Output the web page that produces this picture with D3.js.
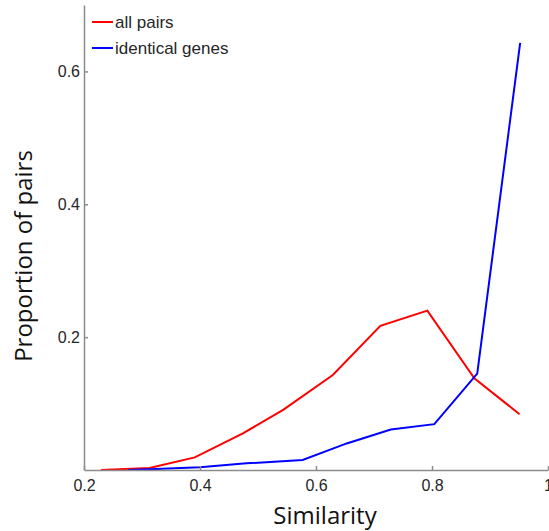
<!DOCTYPE html>
<html>
<head>
<meta charset="utf-8">
<script src="https://cdn.jsdelivr.net/npm/d3@7"></script>
<style>
  body { margin: 0; background: #fff; }
  .tick text { font-family: "Liberation Sans", Arial, sans-serif; font-size: 16px; fill: #262626; }
</style>
</head>
<body>
<div id="chart"></div>
<script>
// data
var allPairsX = [0.229, 0.313, 0.391, 0.474, 0.544, 0.629, 0.711, 0.792, 0.873, 0.951];
var allPairsY = [0.000, 0.003, 0.019, 0.055, 0.091, 0.143, 0.217, 0.240, 0.138, 0.084];
var identicalX = [0.276, 0.313, 0.400, 0.480, 0.577, 0.653, 0.729, 0.804, 0.878, 0.952];
var identicalY = [0.000, 0.001, 0.004, 0.010, 0.015, 0.040, 0.061, 0.069, 0.145, 0.643];
var xTicks = [0.2, 0.4, 0.6, 0.8, 1];
var yTicks = [0.2, 0.4, 0.6];
var seriesNames = ["all pairs", "identical genes"];
var seriesColors = ["#ff0000", "#0000ff"];

function createLineChart(){

  var margin = {top: 5, right: 1, bottom: 61, left: 84},
      width = 549 - margin.left - margin.right,
      height = 531 - margin.top - margin.bottom;

  var x = d3.scaleLinear().domain([0.2, 1]).range([0, width]);
  var y = d3.scaleLinear().domain([0, 0.7]).range([height, 0]);

  var valueline = d3.line()
      .x(function(d) { return x(d[0]); })
      .y(function(d) { return y(d[1]); });

  var svg = d3.select("#chart").append("svg")
      .attr("width", 549)
      .attr("height", 531)
    .append("g")
      .attr("transform", "translate(" + margin.left + "," + margin.top + ")");

  var series = [
    d3.zip(allPairsX, allPairsY),
    d3.zip(identicalX, identicalY)
  ];

  // lines
  series.forEach(function(s, i) {
    svg.append("path")
        .datum(s)
        .attr("fill", "none")
        .attr("stroke", seriesColors[i])
        .attr("stroke-width", 2)
        .attr("d", valueline);
  });

  // x axis, ticks pointing inward
  var xAxis = svg.append("g")
      .attr("transform", "translate(0," + height + ")")
      .call(d3.axisBottom(x).tickValues(xTicks).tickSizeInner(-4).tickSizeOuter(0)
        .tickFormat(function(d) { return d === 1 ? "1" : d3.format(".1f")(d); }));
  xAxis.selectAll("text").attr("y", 10).attr("dy", "0.71em");

  // y axis
  var yAxis = svg.append("g")
      .call(d3.axisLeft(y).tickValues(yTicks).tickSizeInner(-4).tickSizeOuter(0)
        .tickFormat(d3.format(".1f")));
  yAxis.selectAll("text").attr("x", -4);

  svg.selectAll(".domain, .tick line")
      .attr("stroke", "#8c8c8c")
      .attr("stroke-width", 1.5);

  // axis titles
  svg.append("text")
      .attr("x", width / 2 - 0.5 * 0 + (325 - margin.left - width / 2))
      .attr("y", 524 - margin.top)
      .style("text-anchor", "middle")
      .style("font-family", "'Open Sans', sans-serif")
      .style("font-size", "24px")
      .attr("fill", "#111")
      .text("Similarity");

  svg.append("text")
      .attr("transform", "translate(" + (32 - margin.left) + "," + (256 - margin.top) + ")rotate(-90)")
      .style("text-anchor", "middle")
      .style("font-family", "'Open Sans', sans-serif")
      .style("font-size", "24px")
      .attr("fill", "#111")
      .text("Proportion of pairs");

  // legend
  var legend = svg.selectAll(".legend")
      .data(seriesNames)
    .enter().append("g")
      .attr("transform", function(d, i) { return "translate(8," + (17 + i * 26) + ")"; });

  legend.append("line")
      .attr("x1", 0).attr("x2", 21)
      .attr("stroke", function(d, i) { return seriesColors[i]; })
      .attr("stroke-width", 2);

  legend.append("text")
      .attr("x", 23)
      .attr("dy", "0.35em")
      .style("font-family", "'Liberation Sans', Arial, sans-serif")
      .style("font-size", "17px")
      .attr("fill", "#262626")
      .text(function(d) { return d; });
}

createLineChart();
</script>
</body>
</html>
